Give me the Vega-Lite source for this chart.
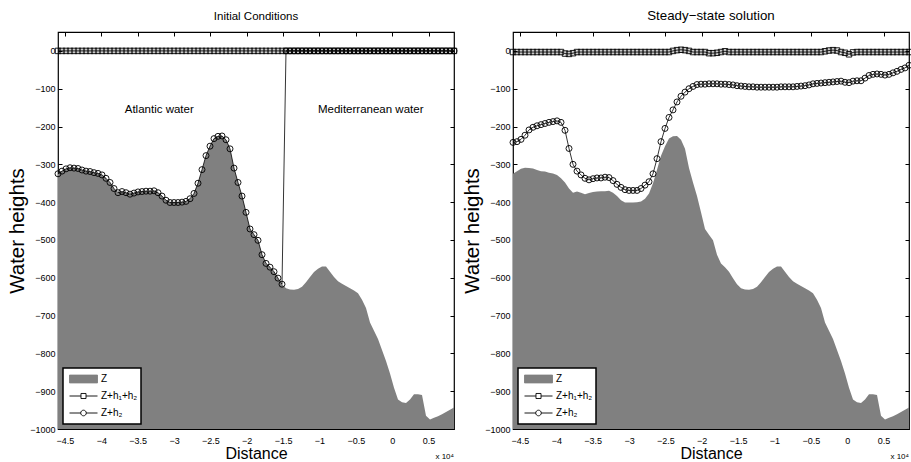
{
"$schema": "https://vega.github.io/schema/vega-lite/v6.json",
"background": "white",
"padding": {"left": 6, "top": 8, "right": 2, "bottom": 3},
"bounds": "flush",
"spacing": 59,
"config": {
  "view": {"stroke": "black", "strokeWidth": 1.2},
  "font": "Liberation Sans, sans-serif",
  "axis": {"grid": false, "domain": false, "tickColor": "black", "tickSize": -4, "tickWidth": 1, "labelFont": "Liberation Sans, sans-serif", "labelFontSize": 9, "labelColor": "black", "titleColor": "black", "titleFontWeight": "normal", "labelFlush": false, "labelOverlap": false},
  "title": {"font": "Liberation Sans, sans-serif", "fontSize": 11.5, "fontWeight": "normal", "frame": "group", "baseline": "alphabetic", "offset": 9, "color": "black", "anchor": "middle"},
  "text": {"font": "Liberation Sans, sans-serif", "color": "black"},
  "legend": {"orient": "bottom-left", "offset": 5, "strokeColor": "black", "strokeWidth": 1.5, "fillColor": "white", "padding": 3, "labelFont": "Liberation Sans, sans-serif", "labelFontSize": 10, "labelColor": "black", "symbolSize": 784, "symbolOpacity": 1, "symbolStrokeWidth": 0.9, "clipHeight": 16, "rowPadding": 1, "symbolOffset": 3, "labelOffset": 3}
},
"resolve": {"scale": {"shape": "independent", "fill": "independent", "stroke": "independent"}, "legend": {"shape": "independent", "fill": "independent", "stroke": "independent"}},
"datasets": {"grid": [
{"x":-45950,"z":-325,"i1":0,"i2":-325,"s1":-3,"s2":-242},
{"x":-45400,"z":-318,"i1":0,"i2":-318,"s1":-3,"s2":-240},
{"x":-44850,"z":-312,"i1":0,"i2":-312,"s1":-3,"s2":-234},
{"x":-44300,"z":-309,"i1":0,"i2":-309,"s1":-3,"s2":-223},
{"x":-43750,"z":-310,"i1":0,"i2":-310,"s1":-3,"s2":-209},
{"x":-43200,"z":-311,"i1":0,"i2":-311,"s1":-3,"s2":-202},
{"x":-42650,"z":-315,"i1":0,"i2":-315,"s1":-3,"s2":-198},
{"x":-42100,"z":-318,"i1":0,"i2":-318,"s1":-3,"s2":-195},
{"x":-41550,"z":-319,"i1":0,"i2":-319,"s1":-3,"s2":-192},
{"x":-41000,"z":-322,"i1":0,"i2":-322,"s1":-3,"s2":-189},
{"x":-40450,"z":-324,"i1":0,"i2":-324,"s1":-3,"s2":-187},
{"x":-39900,"z":-328,"i1":0,"i2":-328,"s1":-3,"s2":-185},
{"x":-39350,"z":-337,"i1":0,"i2":-337,"s1":-3,"s2":-189},
{"x":-38800,"z":-348,"i1":0,"i2":-348,"s1":-7,"s2":-210},
{"x":-38250,"z":-364,"i1":0,"i2":-364,"s1":-8,"s2":-258},
{"x":-37700,"z":-375,"i1":0,"i2":-375,"s1":-6,"s2":-300},
{"x":-37150,"z":-372,"i1":0,"i2":-372,"s1":-3,"s2":-318},
{"x":-36600,"z":-375,"i1":0,"i2":-375,"s1":-3,"s2":-328},
{"x":-36050,"z":-379,"i1":0,"i2":-379,"s1":-3,"s2":-337},
{"x":-35500,"z":-376,"i1":0,"i2":-376,"s1":-3,"s2":-341},
{"x":-34950,"z":-373,"i1":0,"i2":-373,"s1":-3,"s2":-338},
{"x":-34400,"z":-372,"i1":0,"i2":-372,"s1":-3,"s2":-336},
{"x":-33850,"z":-371,"i1":0,"i2":-371,"s1":-3,"s2":-336},
{"x":-33300,"z":-371,"i1":0,"i2":-371,"s1":-3,"s2":-334},
{"x":-32750,"z":-370,"i1":0,"i2":-370,"s1":-3,"s2":-335},
{"x":-32200,"z":-375,"i1":0,"i2":-375,"s1":-3,"s2":-343},
{"x":-31650,"z":-384,"i1":0,"i2":-384,"s1":-3,"s2":-353},
{"x":-31100,"z":-395,"i1":0,"i2":-395,"s1":-3,"s2":-361},
{"x":-30550,"z":-401,"i1":0,"i2":-401,"s1":-3,"s2":-367},
{"x":-30000,"z":-401,"i1":0,"i2":-401,"s1":-3,"s2":-369},
{"x":-29450,"z":-401,"i1":0,"i2":-401,"s1":-3,"s2":-369},
{"x":-28900,"z":-400,"i1":0,"i2":-400,"s1":-3,"s2":-369},
{"x":-28350,"z":-398,"i1":0,"i2":-398,"s1":-3,"s2":-364},
{"x":-27800,"z":-391,"i1":0,"i2":-391,"s1":-3,"s2":-355},
{"x":-27250,"z":-377,"i1":0,"i2":-377,"s1":-3,"s2":-346},
{"x":-26700,"z":-350,"i1":0,"i2":-350,"s1":-3,"s2":-325},
{"x":-26150,"z":-314,"i1":0,"i2":-314,"s1":-3,"s2":-285},
{"x":-25600,"z":-277,"i1":0,"i2":-277,"s1":-3,"s2":-240},
{"x":-25050,"z":-252,"i1":0,"i2":-252,"s1":-3,"s2":-205},
{"x":-24500,"z":-232,"i1":0,"i2":-232,"s1":-3,"s2":-176},
{"x":-23950,"z":-226,"i1":0,"i2":-226,"s1":0,"s2":-156},
{"x":-23400,"z":-225,"i1":0,"i2":-225,"s1":2,"s2":-135},
{"x":-22850,"z":-235,"i1":0,"i2":-235,"s1":3,"s2":-120},
{"x":-22300,"z":-259,"i1":0,"i2":-259,"s1":2,"s2":-109},
{"x":-21750,"z":-310,"i1":0,"i2":-310,"s1":0,"s2":-100},
{"x":-21200,"z":-348,"i1":0,"i2":-348,"s1":-3,"s2":-94},
{"x":-20650,"z":-384,"i1":0,"i2":-384,"s1":-3,"s2":-89},
{"x":-20100,"z":-427,"i1":0,"i2":-427,"s1":-3,"s2":-88},
{"x":-19550,"z":-471,"i1":0,"i2":-471,"s1":-3,"s2":-88},
{"x":-19000,"z":-486,"i1":0,"i2":-486,"s1":-6,"s2":-87},
{"x":-18450,"z":-501,"i1":0,"i2":-501,"s1":-6,"s2":-87},
{"x":-17900,"z":-539,"i1":0,"i2":-539,"s1":-5,"s2":-87},
{"x":-17350,"z":-562,"i1":0,"i2":-562,"s1":-3,"s2":-88},
{"x":-16800,"z":-572,"i1":0,"i2":-572,"s1":-1,"s2":-88},
{"x":-16250,"z":-584,"i1":0,"i2":-584,"s1":-3,"s2":-89},
{"x":-15700,"z":-601,"i1":0,"i2":-601,"s1":-3,"s2":-90},
{"x":-15150,"z":-617,"i1":0,"i2":-617,"s1":-3,"s2":-92},
{"x":-14600,"z":-628,"i1":0,"i2":0,"s1":-3,"s2":-93},
{"x":-14050,"z":-631,"i1":0,"i2":0,"s1":-3,"s2":-94},
{"x":-13500,"z":-632,"i1":0,"i2":0,"s1":-3,"s2":-95},
{"x":-12950,"z":-630,"i1":0,"i2":0,"s1":-3,"s2":-95},
{"x":-12400,"z":-624,"i1":0,"i2":0,"s1":-3,"s2":-96},
{"x":-11850,"z":-612,"i1":0,"i2":0,"s1":-3,"s2":-96},
{"x":-11300,"z":-598,"i1":0,"i2":0,"s1":-3,"s2":-96},
{"x":-10750,"z":-585,"i1":0,"i2":0,"s1":-3,"s2":-96},
{"x":-10200,"z":-576,"i1":0,"i2":0,"s1":-3,"s2":-96},
{"x":-9650,"z":-570,"i1":0,"i2":0,"s1":-3,"s2":-96},
{"x":-9100,"z":-570,"i1":0,"i2":0,"s1":-3,"s2":-95},
{"x":-8550,"z":-584,"i1":0,"i2":0,"s1":-3,"s2":-95},
{"x":-8000,"z":-598,"i1":0,"i2":0,"s1":-3,"s2":-95},
{"x":-7450,"z":-609,"i1":0,"i2":0,"s1":-3,"s2":-95},
{"x":-6900,"z":-616,"i1":0,"i2":0,"s1":-3,"s2":-94},
{"x":-6350,"z":-622,"i1":0,"i2":0,"s1":-3,"s2":-93},
{"x":-5800,"z":-628,"i1":0,"i2":0,"s1":-3,"s2":-92},
{"x":-5250,"z":-634,"i1":0,"i2":0,"s1":-3,"s2":-90},
{"x":-4700,"z":-641,"i1":0,"i2":0,"s1":-3,"s2":-87},
{"x":-4150,"z":-658,"i1":0,"i2":0,"s1":-3,"s2":-86},
{"x":-3600,"z":-680,"i1":0,"i2":0,"s1":-3,"s2":-85},
{"x":-3050,"z":-718,"i1":0,"i2":0,"s1":-1,"s2":-84},
{"x":-2500,"z":-740,"i1":0,"i2":0,"s1":1,"s2":-83},
{"x":-1950,"z":-762,"i1":0,"i2":0,"s1":2,"s2":-82},
{"x":-1400,"z":-791,"i1":0,"i2":0,"s1":1,"s2":-81},
{"x":-850,"z":-820,"i1":0,"i2":0,"s1":-3,"s2":-80},
{"x":-300,"z":-853,"i1":0,"i2":0,"s1":-5,"s2":-83},
{"x":250,"z":-891,"i1":0,"i2":0,"s1":-9,"s2":-84},
{"x":800,"z":-922,"i1":0,"i2":0,"s1":-4,"s2":-80},
{"x":1350,"z":-929,"i1":0,"i2":0,"s1":-3,"s2":-79},
{"x":1900,"z":-931,"i1":0,"i2":0,"s1":-3,"s2":-79},
{"x":2450,"z":-922,"i1":0,"i2":0,"s1":-3,"s2":-72},
{"x":3000,"z":-908,"i1":0,"i2":0,"s1":-3,"s2":-65},
{"x":3550,"z":-908,"i1":0,"i2":0,"s1":-3,"s2":-62},
{"x":4100,"z":-910,"i1":0,"i2":0,"s1":-3,"s2":-61},
{"x":4650,"z":-965,"i1":0,"i2":0,"s1":-3,"s2":-62},
{"x":5200,"z":-975,"i1":0,"i2":0,"s1":-3,"s2":-64},
{"x":5750,"z":-970,"i1":0,"i2":0,"s1":-3,"s2":-62},
{"x":6300,"z":-966,"i1":0,"i2":0,"s1":-3,"s2":-58},
{"x":6850,"z":-961,"i1":0,"i2":0,"s1":-3,"s2":-54},
{"x":7400,"z":-955,"i1":0,"i2":0,"s1":-3,"s2":-49},
{"x":7950,"z":-949,"i1":0,"i2":0,"s1":-3,"s2":-45},
{"x":8500,"z":-943,"i1":0,"i2":0,"s1":-3,"s2":-38}
]},
"hconcat": [
{
  "width": 396, "height": 397,
  "title": {"text": "Initial Conditions", "fontSize": 11.5},
  "data": {"name": "grid"},
  "layer": [
    {"mark": {"type": "area", "color": "#808080"},
     "encoding": {
       "x": {"field": "x", "type": "quantitative", "scale": {"domain": [-45950, 8500], "nice": false, "zero": false},
             "axis": {"orient": "bottom", "values": [-45000,-40000,-35000,-30000,-25000,-20000,-15000,-10000,-5000,0,5000], "labelExpr": "format(datum.value/10000, '~g')", "labelPadding": 18, "labelBaseline": "alphabetic", "title": "Distance", "titleFontSize": 16, "titleY": 29, "titleBaseline": "alphabetic"}},
       "y": {"field": "z", "type": "quantitative", "scale": {"domain": [-1000, 50], "nice": false, "zero": false},
             "axis": {"orient": "left", "values": [-1000,-900,-800,-700,-600,-500,-400,-300,-200,-100,0], "format": "d", "labelPadding": 7, "title": "Water heights", "titleFontSize": 20.5, "titleX": -35, "titleBaseline": "alphabetic"}},
       "y2": {"datum": -1000}
     }},
    {"transform": [{"fold": ["i1", "i2"], "as": ["series", "val"]}],
     "mark": {"type": "line", "color": "black", "strokeWidth": 0.8},
     "encoding": {
       "x": {"field": "x", "type": "quantitative", "axis": null},
       "y": {"field": "val", "type": "quantitative", "axis": null},
       "detail": {"field": "series"}
     }},
    {"mark": {"type": "point", "shape": "square", "filled": false, "color": "black", "strokeWidth": 0.9, "size": 30, "opacity": 1},
     "encoding": {
       "x": {"field": "x", "type": "quantitative", "axis": {"orient": "top", "labels": false, "title": null, "values": [-45000,-40000,-35000,-30000,-25000,-20000,-15000,-10000,-5000,0,5000]}},
       "y": {"field": "i1", "type": "quantitative", "axis": {"orient": "right", "labels": false, "title": null, "values": [-1000,-900,-800,-700,-600,-500,-400,-300,-200,-100,0]}}
     }},
    {"mark": {"type": "point", "shape": "circle", "filled": false, "color": "black", "strokeWidth": 0.9, "size": 36, "opacity": 1},
     "encoding": {
       "x": {"field": "x", "type": "quantitative", "axis": null},
       "y": {"field": "i2", "type": "quantitative", "axis": null}
     }},
    {"transform": [{"fold": ["i1", "i2"], "as": ["series", "val"]}],
     "mark": {"type": "point", "filled": true, "opacity": 0, "size": 1},
     "encoding": {
       "x": {"field": "x", "type": "quantitative", "axis": null},
       "y": {"field": "val", "type": "quantitative", "axis": null},
       "shape": {"field": "series", "type": "nominal", "scale": {"domain": ["Z", "i1", "i2"], "range": ["M-1,-0.28H1V0.28H-1Z", "M-1,0H-0.18M0.18,0H1M-0.18,-0.18H0.18V0.18H-0.18Z", "M-1,0H-0.2M0.2,0H1M0.2,0A0.2,0.2,0,1,1,-0.2,0A0.2,0.2,0,1,1,0.2,0Z"]},
         "legend": {"title": null, "labelExpr": "datum.label == 'Z' ? 'Z' : (datum.label == 'i1' || datum.label == 's1') ? 'Z+h₁+h₂' : 'Z+h₂'"}},
       "fill": {"field": "series", "type": "nominal", "scale": {"domain": ["Z", "i1", "i2"], "range": ["#808080", "transparent", "transparent"]},
         "legend": {"title": null, "labelExpr": "datum.label == 'Z' ? 'Z' : (datum.label == 'i1' || datum.label == 's1') ? 'Z+h₁+h₂' : 'Z+h₂'"}},
       "stroke": {"field": "series", "type": "nominal", "scale": {"domain": ["Z", "i1", "i2"], "range": ["#808080", "black", "black"]},
         "legend": {"title": null, "labelExpr": "datum.label == 'Z' ? 'Z' : (datum.label == 'i1' || datum.label == 's1') ? 'Z+h₁+h₂' : 'Z+h₂'"}}
     }},
    {"data": {"values": [{"x": -32030, "y": -164, "label": "Atlantic water"}, {"x": -2950, "y": -164, "label": "Mediterranean water"}]},
     "mark": {"type": "text", "fontSize": 11.5, "baseline": "alphabetic", "align": "center"},
     "encoding": {
       "x": {"field": "x", "type": "quantitative", "axis": null},
       "y": {"field": "y", "type": "quantitative", "axis": null},
       "text": {"field": "label"}
     }},
    {"data": {"values": [{"x": 8500, "y": -1000, "label": "x 10⁴"}]},
     "mark": {"type": "text", "fontSize": 8, "baseline": "alphabetic", "align": "right", "dy": 30},
     "encoding": {
       "x": {"field": "x", "type": "quantitative", "axis": null},
       "y": {"field": "y", "type": "quantitative", "axis": null},
       "text": {"field": "label"}
     }}
  ]
},
{
  "width": 396, "height": 397,
  "title": {"text": "Steady−state solution", "fontSize": 13.3},
  "data": {"name": "grid"},
  "layer": [
    {"mark": {"type": "area", "color": "#808080"},
     "encoding": {
       "x": {"field": "x", "type": "quantitative", "scale": {"domain": [-45950, 8500], "nice": false, "zero": false},
             "axis": {"orient": "bottom", "values": [-45000,-40000,-35000,-30000,-25000,-20000,-15000,-10000,-5000,0,5000], "labelExpr": "format(datum.value/10000, '~g')", "labelPadding": 18, "labelBaseline": "alphabetic", "title": "Distance", "titleFontSize": 16, "titleY": 29, "titleBaseline": "alphabetic"}},
       "y": {"field": "z", "type": "quantitative", "scale": {"domain": [-1000, 50], "nice": false, "zero": false},
             "axis": {"orient": "left", "values": [-1000,-900,-800,-700,-600,-500,-400,-300,-200,-100,0], "format": "d", "labelPadding": 7, "title": "Water heights", "titleFontSize": 20.5, "titleX": -35, "titleBaseline": "alphabetic"}},
       "y2": {"datum": -1000}
     }},
    {"transform": [{"fold": ["s1", "s2"], "as": ["series", "val"]}],
     "mark": {"type": "line", "color": "black", "strokeWidth": 0.8},
     "encoding": {
       "x": {"field": "x", "type": "quantitative", "axis": null},
       "y": {"field": "val", "type": "quantitative", "axis": null},
       "detail": {"field": "series"}
     }},
    {"mark": {"type": "point", "shape": "square", "filled": false, "color": "black", "strokeWidth": 0.9, "size": 30, "opacity": 1},
     "encoding": {
       "x": {"field": "x", "type": "quantitative", "axis": {"orient": "top", "labels": false, "title": null, "values": [-45000,-40000,-35000,-30000,-25000,-20000,-15000,-10000,-5000,0,5000]}},
       "y": {"field": "s1", "type": "quantitative", "axis": {"orient": "right", "labels": false, "title": null, "values": [-1000,-900,-800,-700,-600,-500,-400,-300,-200,-100,0]}}
     }},
    {"mark": {"type": "point", "shape": "circle", "filled": false, "color": "black", "strokeWidth": 0.9, "size": 36, "opacity": 1},
     "encoding": {
       "x": {"field": "x", "type": "quantitative", "axis": null},
       "y": {"field": "s2", "type": "quantitative", "axis": null}
     }},
    {"transform": [{"fold": ["s1", "s2"], "as": ["series", "val"]}],
     "mark": {"type": "point", "filled": true, "opacity": 0, "size": 1},
     "encoding": {
       "x": {"field": "x", "type": "quantitative", "axis": null},
       "y": {"field": "val", "type": "quantitative", "axis": null},
       "shape": {"field": "series", "type": "nominal", "scale": {"domain": ["Z", "s1", "s2"], "range": ["M-1,-0.28H1V0.28H-1Z", "M-1,0H-0.18M0.18,0H1M-0.18,-0.18H0.18V0.18H-0.18Z", "M-1,0H-0.2M0.2,0H1M0.2,0A0.2,0.2,0,1,1,-0.2,0A0.2,0.2,0,1,1,0.2,0Z"]},
         "legend": {"title": null, "labelExpr": "datum.label == 'Z' ? 'Z' : (datum.label == 'i1' || datum.label == 's1') ? 'Z+h₁+h₂' : 'Z+h₂'"}},
       "fill": {"field": "series", "type": "nominal", "scale": {"domain": ["Z", "s1", "s2"], "range": ["#808080", "transparent", "transparent"]},
         "legend": {"title": null, "labelExpr": "datum.label == 'Z' ? 'Z' : (datum.label == 'i1' || datum.label == 's1') ? 'Z+h₁+h₂' : 'Z+h₂'"}},
       "stroke": {"field": "series", "type": "nominal", "scale": {"domain": ["Z", "s1", "s2"], "range": ["#808080", "black", "black"]},
         "legend": {"title": null, "labelExpr": "datum.label == 'Z' ? 'Z' : (datum.label == 'i1' || datum.label == 's1') ? 'Z+h₁+h₂' : 'Z+h₂'"}}
     }},
    {"data": {"values": [{"x": 8500, "y": -1000, "label": "x 10⁴"}]},
     "mark": {"type": "text", "fontSize": 8, "baseline": "alphabetic", "align": "right", "dy": 30},
     "encoding": {
       "x": {"field": "x", "type": "quantitative", "axis": null},
       "y": {"field": "y", "type": "quantitative", "axis": null},
       "text": {"field": "label"}
     }}
  ]
}
]
}
